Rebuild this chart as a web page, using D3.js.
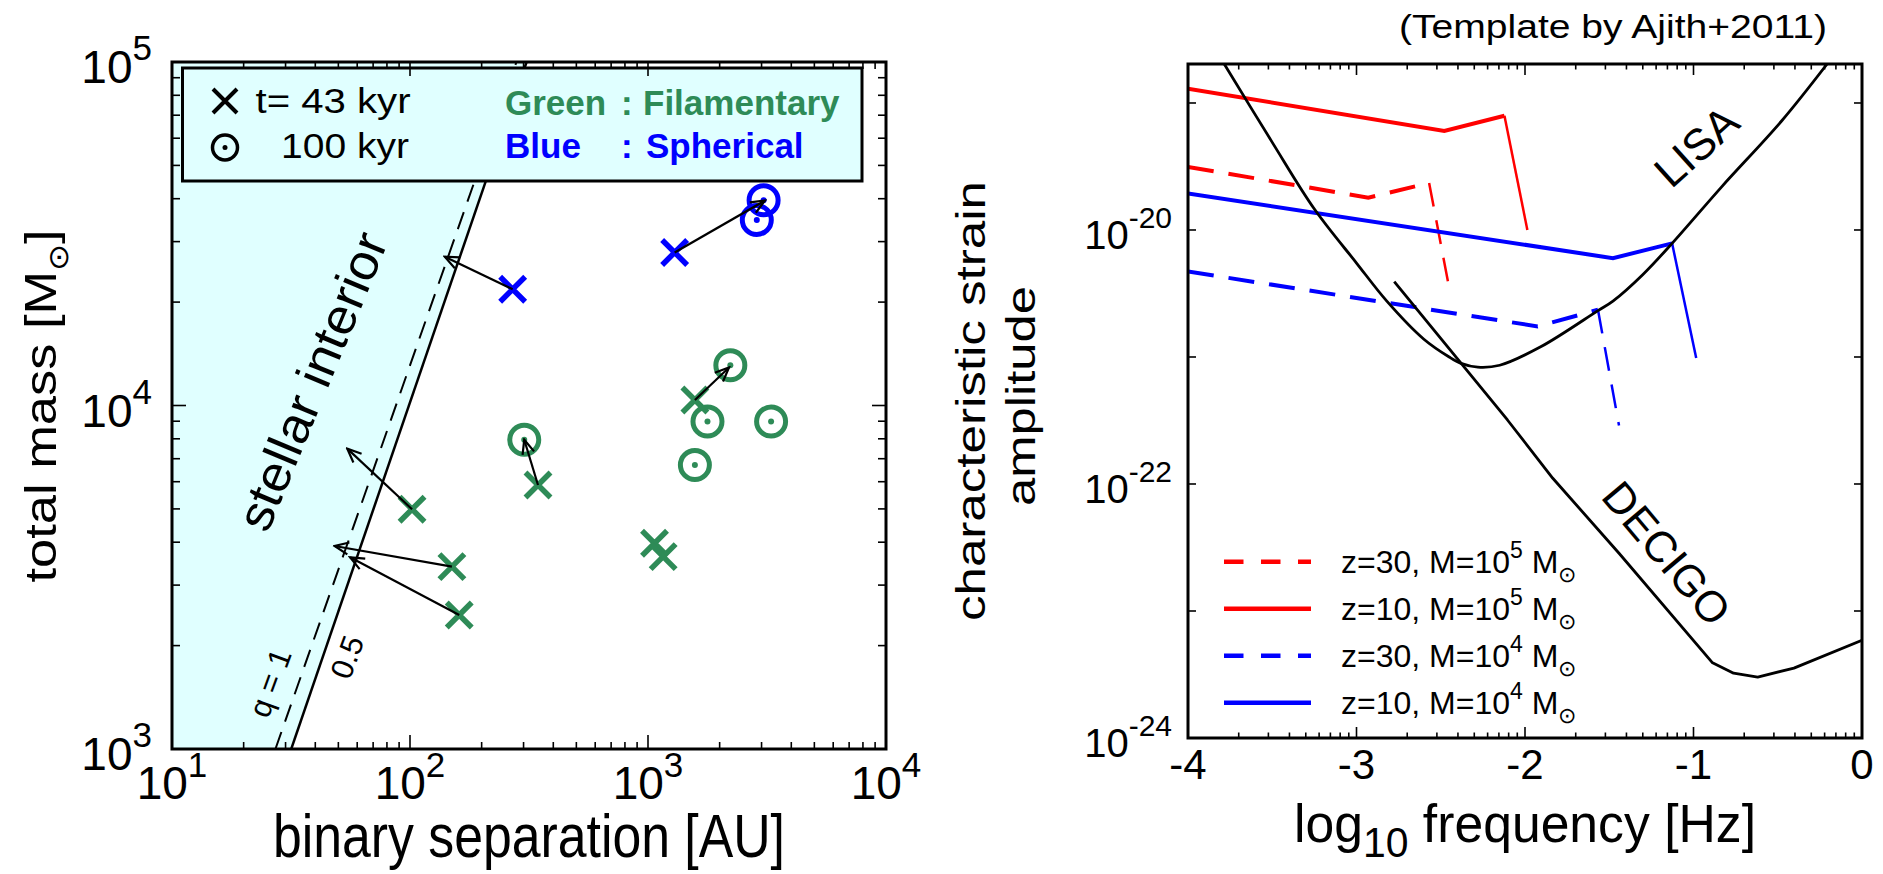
<!DOCTYPE html>
<html lang="en">
<head>
<meta charset="UTF-8">
<title>Binary separation and GW strain</title>
<script src="https://d3js.org/d3.v7.min.js"></script>
<style>
  body { margin: 0; background: #fff; }
  svg { display: block; font-family: "Liberation Sans", Arial, Helvetica, sans-serif; }
</style>
</head>
<body>
<svg></svg>
<script>
const width = 1883, height = 874;

// ---------- left panel: binary separation [AU] vs total mass [Msun]
const sepTicks = [10, 100, 1000, 10000];
const sepExp = ["1", "2", "3", "4"];
const massTicks = [1e3, 1e4, 1e5];
const massExp = ["3", "4", "5"];
// stellar interior boundary, q = 1 (dashed) and q = 0.5 (solid)
const lineQ1 = [[27.2, 1e3], [280, 1e5]];
const lineQ05 = [[31.7, 1e3], [309, 1e5]];
// t = 43 kyr -> crosses, t = 100 kyr -> circles
const filCross = [[102, 4990], [150, 3395], [161, 2455], [345, 5870], [1065, 3970], [1158, 3630], [1574, 10380]];
const filCircle = [[2218, 13100], [1778, 8980], [3290, 8980], [302, 7950], [1574, 6715]];
const sphCross = [[270, 21800], [1294, 27900]];
const sphCircle = [[2865, 34700], [3060, 39600]];
const moves = [
  [[270, 21800], [140, 27100]],
  [[1294, 27900], [3100, 39500]],
  [[1574, 10380], [2190, 12900]],
  [[345, 5870], [302, 7950]],
  [[102, 4990], [54.5, 7490]],
  [[150, 3395], [48.2, 3900]],
  [[161, 2455], [56, 3615]]
];

// ---------- right panel: log10 f [Hz] vs log10 h_c
const freqTicks = [-4, -3, -2, -1, 0];
const strainTicks = [-24, -23, -22, -21, -20, -19];
const strainLabels = [-24, -22, -20];
const lisa = [[-3.785, -18.693], [-3.5, -19.31], [-3.25, -19.835], [-3.0, -20.26], [-2.82, -20.56],
  [-2.6, -20.86], [-2.45, -21.0], [-2.38, -21.05], [-2.28, -21.08], [-2.15, -21.065], [-1.907, -20.92],
  [-1.567, -20.635], [-1.478, -20.56], [-1.3, -20.35], [-1.127, -20.105], [-0.833, -19.66],
  [-0.476, -19.14], [-0.207, -18.693]];
const decigo = [[-2.776, -20.406], [-2.104, -21.496], [-1.835, -21.955], [-1.442, -22.545],
  [-0.887, -23.408], [-0.762, -23.49], [-0.619, -23.52], [-0.404, -23.45], [0, -23.23]];
const z30M5 = [[-4, -19.503], [-2.93, -19.745], [-2.569, -19.63], [-2.444, -20.497]];
const z10M5 = [[-4, -18.887], [-2.479, -19.22], [-2.122, -19.10], [-1.986, -20.0]];
const z30M4 = [[-4, -20.327], [-1.925, -20.759], [-1.567, -20.628], [-1.442, -21.54]];
const z10M4 = [[-4, -19.712], [-1.478, -20.222], [-1.127, -20.105], [-0.984, -21.008]];
const seriesLabels = ["z=30, M=10", "z=10, M=10", "z=30, M=10", "z=10, M=10"];
const seriesExp = ["5", "5", "4", "4"];

const green = "#2e8b57", blue = "#0000ff", red = "#ff0000", cyan = "#e0ffff";

const svg = d3.select("svg").attr("width", width).attr("height", height);
const defs = svg.append("defs");
defs.append("clipPath").attr("id", "clipL").append("rect")
  .attr("x", 172).attr("y", 62).attr("width", 714).attr("height", 687);
defs.append("clipPath").attr("id", "clipR").append("rect")
  .attr("x", 1188).attr("y", 64).attr("width", 674).attr("height", 674);
defs.append("marker").attr("id", "arrow")
  .attr("viewBox", "-16 -8 18 16").attr("refX", 0).attr("refY", 0)
  .attr("markerWidth", 18).attr("markerHeight", 16)
  .attr("markerUnits", "userSpaceOnUse").attr("orient", "auto")
  .append("path").attr("d", "M-14,-6L0,0L-14,6")
  .attr("fill", "none").attr("stroke", "#000").attr("stroke-width", 2.2);

const isMajor = v => Math.abs(Math.log10(v) - Math.round(Math.log10(v))) < 1e-9;

// ================= LEFT =================
const xL = d3.scaleLog().domain([10, 1e4]).range([172, 886]);
const yL = d3.scaleLog().domain([1e3, 1e5]).range([749, 62]);
const lineL = d3.line().x(d => xL(d[0])).y(d => yL(d[1]));
const gL = svg.append("g");
const plotL = gL.append("g").attr("clip-path", "url(#clipL)");

plotL.append("path")
  .datum([[10, 1e3], lineQ05[0], lineQ05[1], [10, 1e5]])
  .attr("d", lineL).attr("fill", cyan);
plotL.append("path").datum(lineQ1).attr("d", lineL)
  .attr("fill", "none").attr("stroke", "#000").attr("stroke-width", 2)
  .attr("stroke-dasharray", "18,11");
plotL.append("path").datum(lineQ05).attr("d", lineL)
  .attr("fill", "none").attr("stroke", "#000").attr("stroke-width", 2.5);

const cross = s => `M${-s},${-s}L${s},${s}M${-s},${s}L${s},${-s}`;
function drawCross(g, data, color) {
  g.append("g").selectAll("path").data(data).join("path")
    .attr("transform", d => `translate(${xL(d[0])},${yL(d[1])})`)
    .attr("d", cross(12.5)).attr("fill", "none")
    .attr("stroke", color).attr("stroke-width", 5.5);
}
function drawCircle(g, data, color) {
  const c = g.append("g").selectAll("g").data(data).join("g")
    .attr("transform", d => `translate(${xL(d[0])},${yL(d[1])})`);
  c.append("circle").attr("r", 14.5).attr("fill", "none")
    .attr("stroke", color).attr("stroke-width", 5);
  c.append("circle").attr("r", 3).attr("fill", color);
}
drawCross(plotL, filCross, green);
drawCircle(plotL, filCircle, green);
drawCross(plotL, sphCross, blue);
drawCircle(plotL, sphCircle, blue);

plotL.append("g").selectAll("line").data(moves).join("line")
  .attr("x1", d => xL(d[0][0])).attr("y1", d => yL(d[0][1]))
  .attr("x2", d => xL(d[1][0])).attr("y2", d => yL(d[1][1]))
  .attr("stroke", "#000").attr("stroke-width", 2.2)
  .attr("marker-end", "url(#arrow)");

// labels inside the plot
gL.append("text").attr("transform", "translate(312,381) rotate(-67.5)")
  .attr("text-anchor", "middle").attr("dy", "0.35em")
  .attr("font-size", 50).attr("textLength", 317).attr("lengthAdjust", "spacingAndGlyphs")
  .text("stellar interior");
gL.append("text").attr("transform", "translate(270,683) rotate(-70)")
  .attr("text-anchor", "middle").attr("dy", "0.35em")
  .attr("font-size", 31).text("q = 1");
gL.append("text").attr("transform", "translate(347,657) rotate(-70)")
  .attr("text-anchor", "middle").attr("dy", "0.35em")
  .attr("font-size", 31).text("0.5");

// legend
gL.append("rect").attr("x", 182.5).attr("y", 68).attr("width", 679.5).attr("height", 113)
  .attr("fill", cyan).attr("stroke", "#000").attr("stroke-width", 3);
gL.append("path").attr("transform", "translate(225,101)").attr("d", cross(12))
  .attr("stroke", "#000").attr("stroke-width", 4).attr("fill", "none");
gL.append("circle").attr("cx", 225).attr("cy", 147.5).attr("r", 12.5)
  .attr("fill", "none").attr("stroke", "#000").attr("stroke-width", 3.5);
gL.append("circle").attr("cx", 225).attr("cy", 147.5).attr("r", 2.5).attr("fill", "#000");
gL.append("text").attr("x", 255.5).attr("y", 113).attr("font-size", 35)
  .attr("textLength", 155).attr("lengthAdjust", "spacingAndGlyphs").text("t= 43 kyr");
gL.append("text").attr("x", 281).attr("y", 158).attr("font-size", 35)
  .attr("textLength", 128).attr("lengthAdjust", "spacingAndGlyphs").text("100 kyr");
const legTxt = [["Green", ":", "Filamentary", green, 115, 643], ["Blue", ":", "Spherical", blue, 158, 646]];
legTxt.forEach(r => {
  const t = gL.append("g").attr("fill", r[3]).attr("font-size", 35).attr("font-weight", "bold");
  t.append("text").attr("x", 505).attr("y", r[4]).text(r[0]);
  t.append("text").attr("x", 621).attr("y", r[4]).text(r[1]);
  t.append("text").attr("x", r[5]).attr("y", r[4]).text(r[2]);
});

// frame + ticks
gL.append("rect").attr("x", 172).attr("y", 62).attr("width", 714).attr("height", 687)
  .attr("fill", "none").attr("stroke", "#000").attr("stroke-width", 3);
const tL = gL.append("g").attr("stroke", "#000").attr("stroke-width", 1.6);
xL.ticks().forEach(v => {
  const len = isMajor(v) ? 14 : 7, x = xL(v);
  tL.append("line").attr("x1", x).attr("x2", x).attr("y1", 749).attr("y2", 749 - len);
  tL.append("line").attr("x1", x).attr("x2", x).attr("y1", 62).attr("y2", 62 + len);
});
yL.ticks().forEach(v => {
  const len = isMajor(v) ? 14 : 8, y = yL(v);
  tL.append("line").attr("x1", 172).attr("x2", 172 + len).attr("y1", y).attr("y2", y);
  tL.append("line").attr("x1", 886).attr("x2", 886 - len).attr("y1", y).attr("y2", y);
});
sepTicks.forEach((v, i) => {
  const t = gL.append("text").attr("x", xL(v)).attr("y", 799)
    .attr("text-anchor", "middle").attr("font-size", 46);
  t.append("tspan").text("10");
  t.append("tspan").attr("font-size", 35).attr("dy", -22).text(sepExp[i]);
});
massTicks.forEach((v, i) => {
  const t = gL.append("text").attr("x", 152).attr("y", yL(v) + 21)
    .attr("text-anchor", "end").attr("font-size", 46);
  t.append("tspan").text("10");
  t.append("tspan").attr("font-size", 35).attr("dy", -23).text(massExp[i]);
});
gL.append("text").attr("x", 529).attr("y", 857).attr("text-anchor", "middle")
  .attr("font-size", 61).attr("textLength", 512).attr("lengthAdjust", "spacingAndGlyphs")
  .text("binary separation [AU]");
const yt = gL.append("text").attr("transform", "translate(56,406) rotate(-90)")
  .attr("text-anchor", "middle").attr("font-size", 45)
  .attr("textLength", 353).attr("lengthAdjust", "spacingAndGlyphs");
yt.append("tspan").text("total mass [M");
yt.append("tspan").attr("font-size", 28).attr("dy", 12).text("\u2299");
yt.append("tspan").attr("dy", -12).text("]");

// ================= RIGHT =================
const xR = d3.scaleLinear().domain([-4, 0]).range([1188, 1862]);
const yR = d3.scaleLinear().domain([-24, -18.693]).range([738, 64]);
const lineR = d3.line().x(d => xR(d[0])).y(d => yR(d[1]));
const smoothR = d3.line().x(d => xR(d[0])).y(d => yR(d[1])).curve(d3.curveCatmullRom.alpha(0.5));
const gR = svg.append("g");
const plotR = gR.append("g").attr("clip-path", "url(#clipR)");

const waves = [
  { pts: z30M5, color: red, dashed: true },
  { pts: z10M5, color: red, dashed: false },
  { pts: z30M4, color: blue, dashed: true },
  { pts: z10M4, color: blue, dashed: false }
];
waves.forEach(w => {
  plotR.append("path").datum(w.pts.slice(0, 3)).attr("d", lineR)
    .attr("fill", "none").attr("stroke", w.color).attr("stroke-width", 4)
    .attr("stroke-dasharray", w.dashed ? "26,15" : null);
  plotR.append("path").datum(w.pts.slice(2)).attr("d", lineR)
    .attr("fill", "none").attr("stroke", w.color).attr("stroke-width", 2.5)
    .attr("stroke-dasharray", w.dashed ? "24,14" : null);
});
plotR.append("path").datum(lisa).attr("d", smoothR)
  .attr("fill", "none").attr("stroke", "#000").attr("stroke-width", 2.8);
plotR.append("path").datum(decigo).attr("d", lineR)
  .attr("fill", "none").attr("stroke", "#000").attr("stroke-width", 2.8)
  .attr("stroke-linejoin", "round");

gR.append("text").attr("transform", "translate(1696,146) rotate(-42)")
  .attr("text-anchor", "middle").attr("dy", "0.36em").attr("font-size", 44).text("LISA");
gR.append("text").attr("transform", "translate(1667,553) rotate(50)")
  .attr("text-anchor", "middle").attr("dy", "0.36em").attr("font-size", 43.5).text("DECIGO");

// legend
waves.forEach((w, i) => {
  const y = 561.7 + i * 47;
  gR.append("line").attr("x1", 1224).attr("x2", 1311).attr("y1", y).attr("y2", y)
    .attr("stroke", w.color).attr("stroke-width", 4.5)
    .attr("stroke-dasharray", w.dashed ? "19.5,17.5" : null);
  const t = gR.append("text").attr("x", 1341).attr("y", y + 11).attr("font-size", 32);
  t.append("tspan").text(seriesLabels[i]);
  t.append("tspan").attr("font-size", 23).attr("dy", -15).text(seriesExp[i]);
  t.append("tspan").attr("dy", 15).text(" M");
  t.append("tspan").attr("font-size", 22).attr("dy", 9).text("\u2299");
});

// frame + ticks
gR.append("rect").attr("x", 1188).attr("y", 64).attr("width", 674).attr("height", 674)
  .attr("fill", "none").attr("stroke", "#000").attr("stroke-width", 3);
const tR = gR.append("g").attr("stroke", "#000").attr("stroke-width", 1.6);
freqTicks.forEach(n => {
  d3.range(1, 10).forEach(k => {
    const v = n + Math.log10(k);
    if (v > 0) return;
    const len = k === 1 ? 11 : 5.5, x = xR(v);
    tR.append("line").attr("x1", x).attr("x2", x).attr("y1", 738).attr("y2", 738 - len);
    tR.append("line").attr("x1", x).attr("x2", x).attr("y1", 64).attr("y2", 64 + len);
  });
});
strainTicks.forEach(v => {
  const y = yR(v);
  tR.append("line").attr("x1", 1188).attr("x2", 1196).attr("y1", y).attr("y2", y);
  tR.append("line").attr("x1", 1862).attr("x2", 1854).attr("y1", y).attr("y2", y);
});
freqTicks.forEach(v => {
  gR.append("text").attr("x", xR(v)).attr("y", 779).attr("text-anchor", "middle")
    .attr("font-size", 42).text(v);
});
strainLabels.forEach(v => {
  const t = gR.append("text").attr("x", 1172).attr("y", yR(v) + 19)
    .attr("text-anchor", "end").attr("font-size", 40);
  t.append("tspan").text("10");
  t.append("tspan").attr("font-size", 30).attr("dy", -21).text(v);
});
const xt = gR.append("text").attr("x", 1525).attr("y", 842).attr("text-anchor", "middle")
  .attr("font-size", 53).attr("textLength", 462).attr("lengthAdjust", "spacingAndGlyphs");
xt.append("tspan").text("log");
xt.append("tspan").attr("font-size", 42).attr("dy", 15).text("10");
xt.append("tspan").attr("dy", -15).text(" frequency [Hz]");
gR.append("text").attr("transform", "translate(985,401) rotate(-90)")
  .attr("text-anchor", "middle").attr("font-size", 41)
  .attr("textLength", 440).attr("lengthAdjust", "spacingAndGlyphs").text("characteristic strain");
gR.append("text").attr("transform", "translate(1035,396) rotate(-90)")
  .attr("text-anchor", "middle").attr("font-size", 41)
  .attr("textLength", 220).attr("lengthAdjust", "spacingAndGlyphs").text("amplitude");
gR.append("text").attr("x", 1613).attr("y", 38).attr("text-anchor", "middle")
  .attr("font-size", 34).attr("textLength", 428).attr("lengthAdjust", "spacingAndGlyphs")
  .text("(Template by Ajith+2011)");
</script>
</body>
</html>
